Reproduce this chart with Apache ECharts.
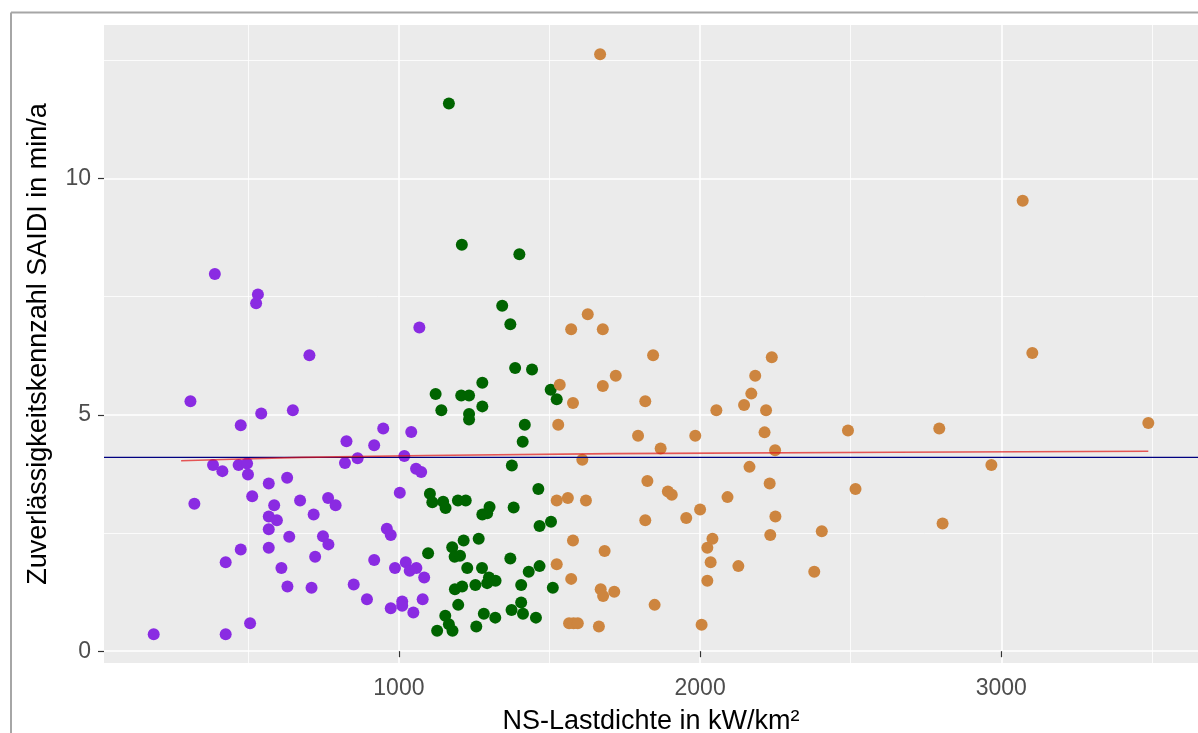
<!DOCTYPE html>
<html>
<head>
<meta charset="utf-8">
<script src="https://cdn.jsdelivr.net/npm/echarts@6/dist/echarts.min.js"></script>
<style>
html,body{margin:0;padding:0;background:#fff;}
#chart{width:1198px;height:733px;}
</style>
</head>
<body>
<div id="chart"></div>
<script>
// ---- data ----
const purpleX = [186,308,321,383,389,414,425,425,468,475,475,496,499,506,513,526,532,543,568,568,568,568,586,595,610,629,630,636,648,672,703,710,717,722,748,765,766,790,821,826,850,863,894,918,918,948,960,973,973,987,1003,1011,1011,1018,1023,1036,1041,1048,1057,1058,1068,1074,1079,1084];
const purpleY = [0.36,5.29,3.12,3.94,7.98,3.81,1.88,0.36,3.94,4.78,2.15,3.97,3.74,0.59,3.28,7.36,7.55,5.03,3.55,2.85,2.58,2.19,3.09,2.77,1.76,3.67,1.37,2.42,5.10,3.19,6.26,1.34,2.89,2.00,2.43,3.24,2.26,3.09,3.98,4.44,1.41,4.08,1.10,4.36,1.93,4.71,2.59,2.46,0.91,1.76,3.35,1.05,0.96,4.13,1.88,1.70,4.64,0.82,3.86,1.76,6.85,3.79,1.10,1.56];

const greenX = [1097,1103,1111,1122,1127,1141,1147,1154,1155,1166,1166,1177,1178,1185,1186,1196,1197,1203,1207,1209,1210,1215,1222,1227,1233,1233,1233,1254,1257,1265,1276,1277,1277,1277,1282,1293,1293,1299,1301,1320,1321,1343,1370,1370,1374,1375,1381,1386,1400,1406,1406,1411,1412,1418,1431,1442,1455,1463,1467,1467,1504,1505,1511,1524];
const greenY = [2.07,3.33,3.15,5.44,0.43,5.10,3.16,0.75,3.03,11.59,0.57,2.20,0.43,2.00,1.31,3.19,0.98,2.02,5.41,8.60,1.37,2.34,3.19,1.76,5.41,5.02,4.90,1.40,0.52,2.38,1.76,5.68,5.18,2.89,0.79,2.92,1.44,1.56,3.05,0.71,1.49,7.31,6.92,1.96,0.87,3.93,3.04,5.99,8.40,1.40,1.03,4.43,0.79,4.79,1.68,5.96,0.71,3.43,2.65,1.80,5.53,2.74,1.34,5.33];

const orangeX = [1524,1524,1529,1534,1561,1565,1580,1594,1572,1572,1578,1578,1609,1621,1627,1664,1668,1670,1677,1677,1678,1683,1715,1720,1794,1818,1818,1825,1844,1849,1869,1893,1906,1954,1984,2000,2005,2024,2024,2035,2041,2054,2091,2127,2146,2164,2170,2183,2214,2219,2231,2233,2238,2249,2250,2379,2404,2491,2516,2794,2805,2967,3071,3103,3488];
const orangeY = [3.19,1.84,4.79,5.64,3.24,0.59,0.59,0.59,6.81,1.53,5.25,2.34,4.05,3.19,7.13,0.52,12.63,1.31,6.81,5.61,1.17,2.12,1.26,5.83,4.56,5.29,2.77,3.60,6.26,0.98,4.29,3.38,3.31,2.82,4.56,3.00,0.56,2.19,1.49,1.88,2.38,5.10,3.26,1.80,5.21,3.90,5.45,5.83,4.63,5.10,3.55,2.46,6.22,4.25,2.85,1.68,2.54,4.67,3.43,4.71,2.70,3.94,9.53,6.31,4.83];

// red fitted line
const fitX = [277,446,678,1089,1714,2650,3488];
const fitY = [4.03,4.06,4.10,4.14,4.18,4.21,4.23];

// blue reference line
const refY = 4.10;

// axis ticks
const xTicks = [1000,2000,3000];
const xMinor = [500,1500,2500,3500];
const yTicks = [0,5,10];
const yMinor = [2.5,7.5,12.5];
const xRange = [21,3653];
const yRange = [-0.25,13.25];

const xTitle = 'NS-Lastdichte in kW/km²';
const yTitle = 'Zuverlässigkeitskennzahl SAIDI in min/a';

// ---- chart ----
const zip = (xs, ys) => xs.map((x, i) => [x, ys[i]]);
const FONT = '"Liberation Sans", Arial, sans-serif';
const plain = v => String(v);

const chart = echarts.init(document.getElementById('chart'), null, {renderer: 'canvas'});
const option = {
  animation: false,
  backgroundColor: '#ffffff',
  grid: {left: 104, right: 0, top: 25, bottom: 70, show: true, backgroundColor: '#EBEBEB', borderWidth: 0,
         containLabel: false, outerBoundsMode: 'none'},
  xAxis: [{
    type: 'value', min: xRange[0], max: xRange[1],
    axisLine: {show: false},
    axisTick: {show: true, length: 6, lineStyle: {color: '#333333', width: 1.2}, customValues: xTicks},
    axisLabel: {show: true, customValues: xTicks, formatter: plain, margin: 14, color: '#4D4D4D', fontSize: 23, fontFamily: FONT},
    splitLine: {show: true, lineStyle: {color: '#ffffff', width: 1.6}},
    name: xTitle, nameLocation: 'middle', nameGap: 59,
    nameTextStyle: {color: '#000000', fontSize: 27, fontFamily: FONT, verticalAlign: 'middle'}
  }, {
    type: 'value', min: xRange[0], max: xRange[1], position: 'bottom',
    axisLine: {show: false},
    axisTick: {show: false, customValues: xMinor},
    axisLabel: {show: false, customValues: xMinor},
    splitLine: {show: true, lineStyle: {color: '#ffffff', width: 0.8}}
  }],
  yAxis: [{
    type: 'value', min: yRange[0], max: yRange[1],
    axisLine: {show: false},
    axisTick: {show: true, length: 6, lineStyle: {color: '#333333', width: 1.2}, customValues: yTicks},
    axisLabel: {show: true, customValues: yTicks, formatter: plain, margin: 13, color: '#4D4D4D', fontSize: 23, fontFamily: FONT},
    splitLine: {show: true, lineStyle: {color: '#ffffff', width: 1.6}},
    name: yTitle, nameLocation: 'middle', nameGap: 65, nameRotate: 90,
    nameTextStyle: {color: '#000000', fontSize: 27, fontFamily: FONT, verticalAlign: 'middle'}
  }, {
    type: 'value', min: yRange[0], max: yRange[1], position: 'left',
    axisLine: {show: false},
    axisTick: {show: false, customValues: yMinor},
    axisLabel: {show: false, customValues: yMinor},
    splitLine: {show: true, lineStyle: {color: '#ffffff', width: 0.8}}
  }],
  graphic: [
    {type: 'line', shape: {x1: 11, y1: 12.5, x2: 1198, y2: 12.5}, style: {stroke: '#A6A6A6', lineWidth: 2}, z: 100},
    {type: 'line', shape: {x1: 11, y1: 12.5, x2: 11, y2: 733}, style: {stroke: '#A6A6A6', lineWidth: 2}, z: 100}
  ],
  series: [
    {type: 'scatter', data: zip(purpleX, purpleY), symbolSize: 12, itemStyle: {color: '#8A2BE2', opacity: 1}, z: 3},
    {type: 'scatter', data: zip(greenX, greenY), symbolSize: 12, itemStyle: {color: '#006400', opacity: 1}, z: 3},
    {type: 'scatter', data: zip(orangeX, orangeY), symbolSize: 12, itemStyle: {color: '#CD853F', opacity: 1}, z: 3},
    {type: 'line', data: [[xRange[0], refY], [xRange[1], refY]], showSymbol: false, symbol: 'none',
     lineStyle: {color: '#000080', width: 1.4}, z: 4, silent: true},
    {type: 'line', data: zip(fitX, fitY), showSymbol: false, symbol: 'none',
     lineStyle: {color: 'rgba(225,20,20,0.7)', width: 1.6}, z: 5, silent: true}
  ]
};
chart.setOption(option);
</script>
</body>
</html>
